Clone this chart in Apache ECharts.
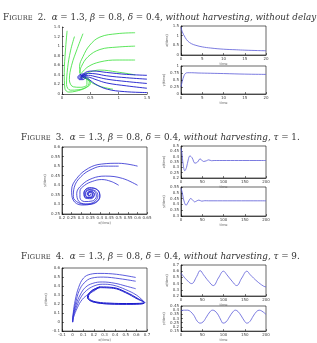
<!DOCTYPE html>
<html><head><meta charset="utf-8">
<script src="https://cdn.jsdelivr.net/npm/echarts@6/dist/echarts.min.js"></script>
<style>html,body{margin:0;padding:0;background:#fff}#c{width:317px;height:343px}</style>
</head><body><div id="c"></div>
<script>
// ---------- Figure 2 data ----------
const f2Green = [
  [[1.29,1.28],[0.97,1.26],[0.67,1.19],[0.49,1.02],[0.37,0.78],[0.31,0.57],[0.33,0.39]],
  [[1.29,1.0],[0.97,0.98],[0.67,0.93],[0.46,0.78],[0.34,0.57],[0.31,0.43]],
  [[1.29,0.71],[0.97,0.71],[0.67,0.67],[0.46,0.57],[0.34,0.43]],
  [[1.29,0.40],[0.97,0.46],[0.67,0.50],[0.49,0.46],[0.37,0.40]],
  [[0.09,1.32],[0.06,0.9],[0.04,0.45],[0.05,0.12],[0.12,0.04],[0.25,0.06],[0.4,0.12],[0.5,0.22],[0.47,0.32],[0.38,0.36],[0.33,0.34]],
  [[0.22,1.2],[0.15,0.9],[0.1,0.55],[0.08,0.2],[0.15,0.08],[0.3,0.09],[0.45,0.16],[0.48,0.27],[0.4,0.33]],
  [[0.37,1.26],[0.27,0.95],[0.17,0.6],[0.13,0.3],[0.2,0.15],[0.33,0.14],[0.44,0.2],[0.44,0.3],[0.37,0.34]],
  [[0.9,0.1],[0.7,0.15],[0.55,0.22],[0.45,0.3],[0.36,0.36]]
];
const f2Blue = [
  [[1.5,0.39],[1.14,0.41],[0.79,0.45],[0.55,0.48],[0.45,0.47],[0.38,0.42],[0.33,0.37]],
  [[1.5,0.31],[1.14,0.34],[0.79,0.38],[0.6,0.42],[0.47,0.43],[0.38,0.4],[0.33,0.36]],
  [[1.5,0.22],[1.14,0.26],[0.79,0.31],[0.6,0.36],[0.47,0.39],[0.38,0.38],[0.34,0.35]],
  [[1.5,0.12],[1.14,0.17],[0.79,0.23],[0.6,0.3],[0.48,0.35],[0.4,0.36],[0.35,0.35]],
  [[1.5,0.03],[1.1,0.05],[0.8,0.1],[0.6,0.2],[0.48,0.3],[0.4,0.35]],
  [[0.44,0.40],[0.38,0.42],[0.31,0.40],[0.28,0.35],[0.31,0.30],[0.37,0.30],[0.41,0.34],[0.39,0.38],[0.34,0.39],[0.30,0.36],[0.31,0.32],[0.36,0.32],[0.38,0.35],[0.36,0.37],[0.33,0.365],[0.325,0.345],[0.345,0.335],[0.355,0.35],[0.34,0.355]]
];
const f2TopT = [0,0.3,1,1.6,2.5,3.5,5,7,10,13,15,18,20];
const f2TopV = [1.45,1.2,0.9,0.72,0.58,0.5,0.42,0.36,0.3,0.27,0.25,0.23,0.22];
const f2BotT = [0,0.3,0.7,1.1,1.6,2.5,4,7,10,15,20];
const f2BotV = [0.25,0.45,0.65,0.74,0.76,0.76,0.75,0.74,0.73,0.71,0.70];

// ---------- Figure 3 data ----------
const f3Traj = [
  [[0.6,0.5],[0.5,0.515],[0.41,0.511],[0.34,0.489],[0.278,0.436],[0.251,0.375],[0.259,0.323],[0.304,0.297],[0.366,0.306],[0.401,0.34],[0.39,0.375],[0.345,0.385],[0.315,0.36],[0.325,0.335],[0.36,0.335],[0.37,0.355],[0.35,0.368],[0.333,0.355],[0.345,0.345],[0.352,0.356]],
  [[0.5,0.5],[0.42,0.5],[0.36,0.485],[0.3,0.445],[0.265,0.39],[0.26,0.34],[0.285,0.31],[0.33,0.3],[0.38,0.31],[0.4,0.345],[0.385,0.378],[0.345,0.388],[0.318,0.365],[0.32,0.337],[0.355,0.33],[0.372,0.352],[0.355,0.37],[0.335,0.36],[0.34,0.345],[0.355,0.352]],
  [[0.6,0.4],[0.52,0.436],[0.43,0.448],[0.36,0.436],[0.304,0.401],[0.278,0.358],[0.29,0.315],[0.325,0.303],[0.37,0.313],[0.39,0.345],[0.375,0.372],[0.34,0.378],[0.322,0.355],[0.335,0.335],[0.36,0.34],[0.362,0.36],[0.345,0.365],[0.338,0.35]],
  [[0.5,0.4],[0.46,0.42],[0.41,0.43],[0.36,0.42],[0.32,0.4],[0.295,0.37],[0.295,0.335],[0.32,0.315],[0.36,0.318],[0.382,0.342],[0.372,0.368],[0.345,0.375],[0.325,0.358],[0.333,0.338],[0.358,0.34],[0.36,0.358],[0.345,0.362],[0.34,0.35]]
];
const f3TopT = [0,2,5,9,13,17,21,26,33,39,45,53,60,65,72,78,90,200];
const f3TopV = [0.478,0.44,0.33,0.268,0.3,0.37,0.407,0.39,0.339,0.35,0.379,0.355,0.362,0.37,0.362,0.364,0.364,0.364];
const f3BotT = [0,3,7,12,17,23,28,32,37,42,49,56,65,200];
const f3BotV = [0.54,0.5,0.43,0.393,0.42,0.451,0.435,0.422,0.43,0.437,0.428,0.432,0.431,0.431];

// ---------- Figure 4 data ----------
const f4Traj = [
  [[0,0],[0.006,0.103],[0.0245,0.243],[0.056,0.383],[0.102,0.488],[0.165,0.53],[0.258,0.54],[0.414,0.53],[0.594,0.495]],
  [[0,0],[0.006,0.086],[0.031,0.226],[0.062,0.348],[0.109,0.435],[0.18,0.488],[0.289,0.499],[0.445,0.481],[0.594,0.453]],
  [[0,0],[0.006,0.07],[0.035,0.2],[0.07,0.3],[0.12,0.385],[0.19,0.43],[0.28,0.445],[0.4,0.43],[0.5,0.4],[0.594,0.37]],
  [[0,0],[0.006,0.06],[0.04,0.18],[0.08,0.28],[0.13,0.35],[0.2,0.4],[0.28,0.42],[0.38,0.41],[0.5,0.36],[0.6,0.3],[0.66,0.24],[0.678,0.215],[0.632,0.201],[0.507,0.198],[0.351,0.201],[0.227,0.215],[0.158,0.243],[0.14,0.278],[0.18,0.348],[0.258,0.39]],
  [[0,0],[0.008,0.05],[0.045,0.16],[0.09,0.25],[0.15,0.31],[0.21,0.35]]
];
const f4Loop = [
  [[0.21,0.35],[0.258,0.39],[0.383,0.383],[0.507,0.33],[0.616,0.26],[0.678,0.215],[0.632,0.201],[0.507,0.198],[0.351,0.201],[0.227,0.215],[0.158,0.243],[0.14,0.278],[0.18,0.348],[0.258,0.39]],
  [[0.258,0.382],[0.383,0.375],[0.5,0.325],[0.61,0.255],[0.668,0.218],[0.63,0.208],[0.507,0.206],[0.351,0.21],[0.23,0.222],[0.165,0.248],[0.148,0.278],[0.185,0.342],[0.258,0.382]]
];
const f4TopT = [0,13,25,37,45,53,65,76,88,100,108,120,131,143,155,163,179,194,200];
const f4TopV = [0.568,0.463,0.40,0.516,0.61,0.542,0.437,0.368,0.49,0.60,0.542,0.44,0.368,0.49,0.60,0.542,0.437,0.36,0.347];
const f4BotT = [0,8,16,22,30,38,45,52,60,68,74,80,88,94,99,106,114,122,128,134,142,150,155,162,170,178,184,190,200];
const f4BotV = [0.395,0.40,0.40,0.385,0.34,0.27,0.245,0.26,0.32,0.38,0.40,0.39,0.34,0.28,0.245,0.26,0.32,0.38,0.40,0.385,0.33,0.265,0.245,0.265,0.33,0.385,0.40,0.39,0.35];

// ---------- chart ----------
const zip = (a,b) => a.map((v,i)=>[v,b[i]]);
const LBL = {fontSize:4, color:'#444', margin:2, fontFamily:'DejaVu Sans'};
const NAME = {fontSize:3.5, color:'#666', fontFamily:'DejaVu Sans'};
function ax(min,max,interval,name,gap){
  return {type:'value',min,max,interval,
    axisLine:{show:true,onZero:false,lineStyle:{color:'#000',width:0.6}},
    axisTick:{show:true,inside:true,length:2,lineStyle:{color:'#000',width:0.5}},
    axisLabel:Object.assign({},LBL,{showMinLabel:true,showMaxLabel:true}),
    splitLine:{show:false},
    name:name||'',nameLocation:'middle',nameGap:gap||6,nameTextStyle:NAME};
}
const box = {show:true,borderColor:'#000',borderWidth:0.6,backgroundColor:'rgba(0,0,0,0)'};
const grids = [
  {left:62,top:27,width:85,height:67},
  Object.assign({left:181,top:26,width:85,height:29},box),
  Object.assign({left:181,top:66,width:85,height:28},box),
  Object.assign({left:62,top:147,width:85,height:67},box),
  Object.assign({left:181,top:146,width:85,height:32},box),
  Object.assign({left:181,top:187,width:85,height:29},box),
  Object.assign({left:62,top:268,width:85,height:66},box),
  Object.assign({left:181,top:265,width:85,height:31},box),
  Object.assign({left:181,top:306,width:85,height:29},box)
];
const xAxes = [
  ax(0,1.5,0.5),
  ax(0,20,5,'time',5), ax(0,20,5,'time',5),
  ax(0.2,0.65,0.05,'x(time)',6),
  ax(0,200,50,'time',5), ax(0,200,50,'time',5),
  ax(-0.1,0.7,0.1,'x(time)',6),
  ax(0,200,50,'time',5), ax(0,200,50,'time',5)
];
const yAxes = [
  ax(0,1.4,0.2),
  ax(0,1.5,0.5,'x(time)',8), ax(0,1,0.25,'y(time)',10),
  ax(0.25,0.6,0.05,'y(time)',10),
  ax(0.2,0.5,0.05,'x(time)',10), ax(0.3,0.55,0.05,'y(time)',10),
  ax(-0.1,0.6,0.1,'y(time)',8),
  ax(0.2,0.7,0.1,'x(time)',8), ax(0.15,0.45,0.05,'y(time)',10)
];
xAxes.forEach((a,i)=>a.gridIndex=i);
yAxes.forEach((a,i)=>a.gridIndex=i);
const series = [];
function add(data,idx,color,w,smooth){
  series.push({type:'line',xAxisIndex:idx,yAxisIndex:idx,data,smooth:smooth===undefined?0.4:smooth,
    symbol:'none',silent:true,lineStyle:{color,width:w},clip:true,animation:false});
}
f2Green.forEach(d=>add(d,0,'#33e033',0.8));
f2Blue.forEach(d=>add(d,0,'#1a1acc',0.9));
add(zip(f2TopT,f2TopV),1,'#5a5ad8',0.8);
add(zip(f2BotT,f2BotV),2,'#5a5ad8',0.8);
f3Traj.forEach(d=>add(d,3,'#2a2ad0',0.8));
add(zip(f3TopT,f3TopV),4,'#5a5ad8',0.8);
add(zip(f3BotT,f3BotV),5,'#5a5ad8',0.8);
f4Traj.forEach(d=>add(d,6,'#3333d4',0.8));
f4Loop.forEach(d=>add(d,6,'#1a1acc',1));
add(zip(f4TopT,f4TopV),7,'#5a5ad8',0.8);
add(zip(f4BotT,f4BotV),8,'#5a5ad8',0.8);

const FF = 'DejaVu Serif';
const base = {fontFamily:FF,color:'#333',fontWeight:'normal'};
const rich = {
  F:Object.assign({fontSize:8.8},base),
  s:Object.assign({fontSize:6.7},base),
  n:Object.assign({fontSize:8.8},base),
  m:Object.assign({fontSize:8.8,fontStyle:'italic'},base),
  i:Object.assign({fontSize:8.8,fontStyle:'italic'},base)
};
function ttl(num,tail,left,top){
  return {left,top,padding:0,
    text:'{F|F}{s|IGURE} {n|'+num+'.  }{m|α}{n| = 1.3, }{m|β}{n| = 0.8, }{m|δ}{n| = 0.4, }{i|without harvesting, }'+tail,
    textStyle:{rich,fontWeight:'normal'}};
}
const option = {
  animation:false,
  title:[
    ttl(2,'{i|without delay}',3,9),
    ttl(3,'{m|τ}{n| = 1.}',21,129),
    ttl(4,'{m|τ}{n| = 9.}',21,248)
  ],
  grid:grids, xAxis:xAxes, yAxis:yAxes, series
};
const chart = echarts.init(document.getElementById('c'),null,{renderer:'canvas'});
chart.setOption(option);
</script></body></html>
